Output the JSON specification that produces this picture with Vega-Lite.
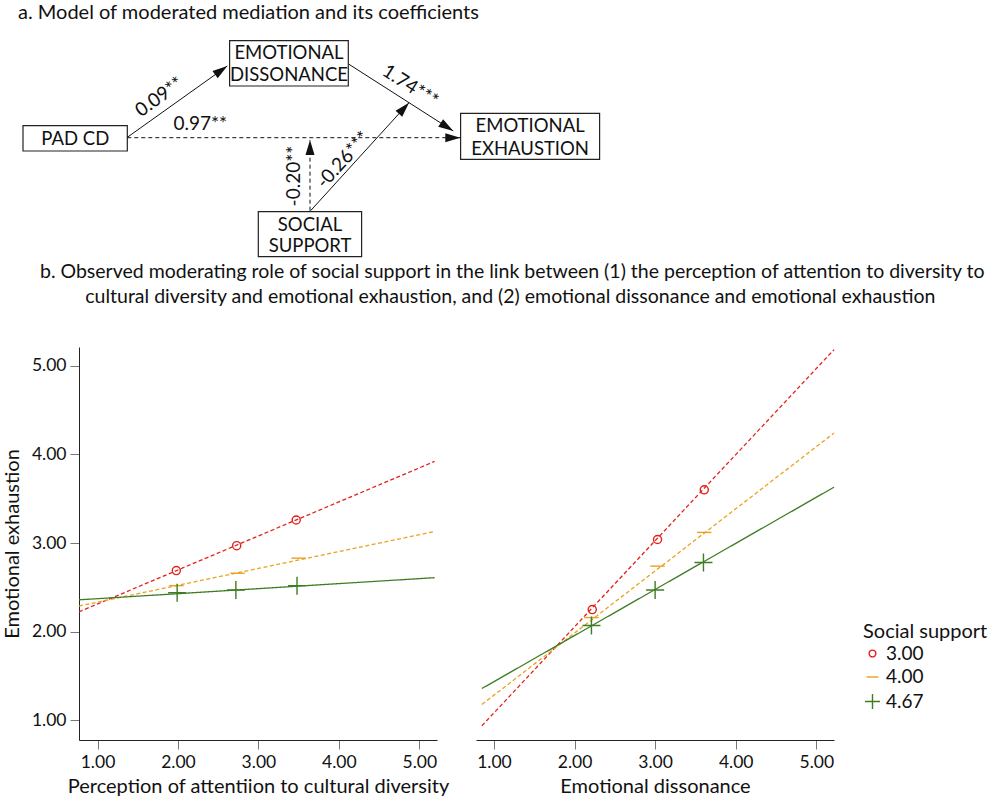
{
  "$schema": "https://vega.github.io/schema/vega-lite/v6.json",
  "padding": {"left": 2, "top": 0, "right": 0, "bottom": 0},
  "spacing": 0,
  "config": {
    "view": {"stroke": null},
    "font": "Lato",
    "axis": {
      "grid": false,
      "domainColor": "#222",
      "tickColor": "#777",
      "tickSize": 9,
      "labelFont": "Lato",
      "titleFont": "Lato",
      "labelFontSize": 17.5,
      "titleFontSize": 20,
      "labelColor": "#111",
      "titleColor": "#111",
      "titleFontWeight": "normal",
      "labelPadding": 4,
      "labelFlush": false
    },
    "legend": {
      "orient": "none",
      "legendX": 784,
      "legendY": 622,
      "titleFont": "Lato",
      "labelFont": "Lato",
      "titleFontSize": 20,
      "labelFontSize": 19,
      "titleFontWeight": "normal",
      "titleColor": "#111",
      "labelColor": "#111",
      "titlePadding": 2,
      "symbolSize": 225,
      "symbolStrokeWidth": 1.4,
      "rowPadding": 3.5,
      "labelOffset": 4,
      "padding": 0
    }
  },
  "datasets": {
    "boxes": [
      {"node": "PAD CD", "x": 25.7, "x2": 130, "y": 125.7, "y2": 151},
      {"node": "Emotional dissonance", "x": 232.3, "x2": 351, "y": 40.7, "y2": 86},
      {"node": "Emotional exhaustion", "x": 463.3, "x2": 602.3, "y": 113.3, "y2": 159.3},
      {"node": "Social support", "x": 261, "x2": 364.3, "y": 211.7, "y2": 256.7}
    ],
    "boxText": [
      {"text": "PAD CD", "x": 78, "y": 139},
      {"text": "EMOTIONAL", "x": 291.7, "y": 53},
      {"text": "DISSONANCE", "x": 291.7, "y": 75},
      {"text": "EMOTIONAL", "x": 532.8, "y": 126},
      {"text": "EXHAUSTION", "x": 532.8, "y": 148.5},
      {"text": "SOCIAL", "x": 312.7, "y": 225},
      {"text": "SUPPORT", "x": 312.7, "y": 246}
    ],
    "edges": [
      {"edge": "a", "line": "solid", "x": 130, "y": 137.3, "x2": 230, "y2": 66},
      {"edge": "c", "line": "dashed", "x": 130, "y": 137.7, "x2": 463, "y2": 137.7},
      {"edge": "b", "line": "solid", "x": 351.7, "y": 64.3, "x2": 456, "y2": 131},
      {"edge": "w2", "line": "solid", "x": 313.3, "y": 210.7, "x2": 411.7, "y2": 102.7},
      {"edge": "w1", "line": "dashed", "x": 312.7, "y": 210.7, "x2": 312.7, "y2": 140}
    ],
    "coefs": [
      {"text": "0.09**", "x": 162, "y": 97, "angle": -35.4},
      {"text": "0.97**", "x": 203, "y": 124, "angle": 0},
      {"text": "1.74***", "x": 413, "y": 86, "angle": 32.8},
      {"text": "-0.26***", "x": 346, "y": 160, "angle": -47.8},
      {"text": "-0.20**", "x": 297, "y": 176, "angle": -90}
    ],
    "titleA": [
      {"text": "a. Model of moderated mediation and its coefficients", "x": 20.7, "y": 13}
    ],
    "titleB": [
      {"text": "b. Observed moderating role of social support in the link between (1) the perception of attention to diversity to", "x": 515, "y": 272},
      {"text": "cultural diversity and emotional exhaustion, and (2) emotional dissonance and emotional exhaustion", "x": 513, "y": 297}
    ],
    "lines": [
      {"panel": "attention", "support": "3.00", "x": 0.77, "y": 2.225},
      {"panel": "attention", "support": "3.00", "x": 5.19, "y": 3.92},
      {"panel": "attention", "support": "4.00", "x": 0.77, "y": 2.29},
      {"panel": "attention", "support": "4.00", "x": 5.19, "y": 3.13},
      {"panel": "attention", "support": "4.67", "x": 0.77, "y": 2.36},
      {"panel": "attention", "support": "4.67", "x": 5.19, "y": 2.61},
      {"panel": "dissonance", "support": "3.00", "x": 0.85, "y": 0.94},
      {"panel": "dissonance", "support": "3.00", "x": 5.22, "y": 5.18},
      {"panel": "dissonance", "support": "4.00", "x": 0.85, "y": 1.18},
      {"panel": "dissonance", "support": "4.00", "x": 5.22, "y": 4.24},
      {"panel": "dissonance", "support": "4.67", "x": 0.85, "y": 1.36},
      {"panel": "dissonance", "support": "4.67", "x": 5.22, "y": 3.63}
    ],
    "markers": [
      {"panel": "attention", "support": "3.00", "x": 1.98, "y": 2.69},
      {"panel": "attention", "support": "3.00", "x": 2.73, "y": 2.97},
      {"panel": "attention", "support": "3.00", "x": 3.47, "y": 3.26},
      {"panel": "attention", "support": "4.00", "x": 1.98, "y": 2.52},
      {"panel": "attention", "support": "4.00", "x": 2.74, "y": 2.66},
      {"panel": "attention", "support": "4.00", "x": 3.50, "y": 2.83},
      {"panel": "attention", "support": "4.67", "x": 1.99, "y": 2.44},
      {"panel": "attention", "support": "4.67", "x": 2.72, "y": 2.47},
      {"panel": "attention", "support": "4.67", "x": 3.48, "y": 2.52},
      {"panel": "dissonance", "support": "3.00", "x": 2.22, "y": 2.25},
      {"panel": "dissonance", "support": "3.00", "x": 3.03, "y": 3.04},
      {"panel": "dissonance", "support": "3.00", "x": 3.61, "y": 3.60},
      {"panel": "dissonance", "support": "4.00", "x": 2.21, "y": 2.16},
      {"panel": "dissonance", "support": "4.00", "x": 3.03, "y": 2.74},
      {"panel": "dissonance", "support": "4.00", "x": 3.61, "y": 3.12},
      {"panel": "dissonance", "support": "4.67", "x": 2.21, "y": 2.07},
      {"panel": "dissonance", "support": "4.67", "x": 3.00, "y": 2.47},
      {"panel": "dissonance", "support": "4.67", "x": 3.60, "y": 2.78}
    ]
  },
  "vconcat": [
    {
      "width": 911.3,
      "height": 347,
      "encoding": {
        "x": {"field": "x", "type": "quantitative", "scale": {"domain": [81.7, 993], "nice": false, "zero": false}, "axis": null},
        "y": {"field": "y", "type": "quantitative", "scale": {"domain": [0, 347], "nice": false, "zero": false, "reverse": true}, "axis": null}
      },
      "layer": [
        {
          "data": {"name": "boxes"},
          "mark": {"type": "rect", "fill": "white", "stroke": "#222", "strokeWidth": 1.2},
          "encoding": {
            "x2": {"field": "x2"},
            "y2": {"field": "y2"}
          }
        },
        {
          "data": {"name": "edges"},
          "transform": [{"filter": "datum.line === 'solid'"}],
          "mark": {"type": "rule", "color": "#111", "strokeWidth": 1},
          "encoding": {
            "x2": {"field": "x2"},
            "y2": {"field": "y2"}
          }
        },
        {
          "data": {"name": "edges"},
          "transform": [{"filter": "datum.line === 'dashed'"}],
          "mark": {"type": "rule", "color": "#111", "strokeWidth": 1, "strokeDash": [4, 3]},
          "encoding": {
            "x2": {"field": "x2"},
            "y2": {"field": "y2"}
          }
        },
        {
          "data": {"name": "edges"},
          "transform": [{"calculate": "atan2(datum.x2 - datum.x, datum.y - datum.y2) * 180 / PI", "as": "dir"}],
          "mark": {"type": "point", "shape": "M0,0L0.45,1.5L-0.45,1.5Z", "filled": true, "color": "#111", "opacity": 1, "size": 400},
          "encoding": {
            "x": {"field": "x2", "type": "quantitative"},
            "y": {"field": "y2", "type": "quantitative"},
            "angle": {"field": "dir", "type": "quantitative", "scale": null}
          }
        },
        {
          "data": {"name": "boxText"},
          "mark": {"type": "text", "font": "Lato", "fontSize": 18.5, "color": "#111", "align": "center", "baseline": "middle"},
          "encoding": {"text": {"field": "text"}}
        },
        {
          "data": {"name": "coefs"},
          "mark": {"type": "text", "font": "Lato", "fontSize": 19, "color": "#111", "align": "center", "baseline": "middle"},
          "encoding": {
            "text": {"field": "text"},
            "angle": {"field": "angle", "type": "quantitative", "scale": null}
          }
        },
        {
          "data": {"name": "titleA"},
          "mark": {"type": "text", "font": "Lato", "fontSize": 20, "color": "#111", "align": "left", "baseline": "middle"},
          "encoding": {"text": {"field": "text"}}
        },
        {
          "data": {"name": "titleB"},
          "mark": {"type": "text", "font": "Lato", "fontSize": 19.5, "color": "#111", "align": "center", "baseline": "middle"},
          "encoding": {"text": {"field": "text"}}
        }
      ]
    },
    {
      "hconcat": [
        {
          "width": 358,
          "height": 393,
          "layer": [
            {
              "data": {"name": "lines"},
              "transform": [{"filter": "datum.panel === 'attention'"}],
              "mark": {"type": "line", "strokeWidth": 1.3},
              "encoding": {
                "x": {"field": "x", "type": "quantitative", "scale": {"domain": [0.77, 5.22], "nice": false, "zero": false}, "axis": {"values": [1, 2, 3, 4, 5], "format": ".2f", "title": "Perception of attentiion to cultural diversity", "titlePadding": 6}},
                "y": {"field": "y", "type": "quantitative", "scale": {"domain": [0.78, 5.21], "nice": false, "zero": false}, "axis": {"values": [1, 2, 3, 4, 5], "format": ".2f", "title": "Emotional exhaustion", "titlePadding": 9}},
                "stroke": {"field": "support", "type": "nominal", "scale": {"domain": ["4.67", "4.00", "3.00"], "range": ["#3e7d23", "#e9a21f", "#e3211c"]}, "legend": null},
                "strokeDash": {"field": "support", "type": "nominal", "scale": {"domain": ["4.67", "4.00", "3.00"], "range": [[1, 0], [4, 2.5], [4, 2.5]]}, "legend": null}
              }
            },
            {
              "data": {"name": "markers"},
              "transform": [{"filter": "datum.panel === 'attention'"}],
              "mark": {"type": "point", "filled": false, "strokeWidth": 1.4, "size": 324, "opacity": 1},
              "encoding": {
                "x": {"field": "x", "type": "quantitative"},
                "y": {"field": "y", "type": "quantitative"},
                "color": {"field": "support", "type": "nominal", "title": "Social support", "scale": {"domain": ["3.00", "4.00", "4.67"], "range": ["#e3211c", "#e9a21f", "#3e7d23"]}},
                "shape": {"field": "support", "type": "nominal", "title": "Social support", "scale": {"domain": ["3.00", "4.00", "4.67"], "range": ["M0.45,0A0.45,0.45 0 1,1 -0.45,0A0.45,0.45 0 1,1 0.45,0Z", "M-0.8,0L0.8,0", "M-1,0L1,0M0,-1L0,1"]}}
              }
            }
          ]
        },
        {
          "width": 358,
          "height": 393,
          "layer": [
            {
              "data": {"name": "lines"},
              "transform": [{"filter": "datum.panel === 'dissonance'"}],
              "mark": {"type": "line", "strokeWidth": 1.3},
              "encoding": {
                "x": {"field": "x", "type": "quantitative", "scale": {"domain": [0.777, 5.22], "nice": false, "zero": false}, "axis": {"values": [1, 2, 3, 4, 5], "format": ".2f", "title": "Emotional dissonance", "titlePadding": 6}},
                "y": {"field": "y", "type": "quantitative", "scale": {"domain": [0.78, 5.21], "nice": false, "zero": false}, "axis": null},
                "stroke": {"field": "support", "type": "nominal", "legend": null},
                "strokeDash": {"field": "support", "type": "nominal", "legend": null}
              }
            },
            {
              "data": {"name": "markers"},
              "transform": [{"filter": "datum.panel === 'dissonance'"}],
              "mark": {"type": "point", "filled": false, "strokeWidth": 1.4, "size": 324, "opacity": 1},
              "encoding": {
                "x": {"field": "x", "type": "quantitative"},
                "y": {"field": "y", "type": "quantitative"},
                "color": {"field": "support", "type": "nominal", "title": "Social support"},
                "shape": {"field": "support", "type": "nominal", "title": "Social support"}
              }
            }
          ]
        }
      ],
      "spacing": 39,
      "bounds": "flush"
    }
  ]
}
